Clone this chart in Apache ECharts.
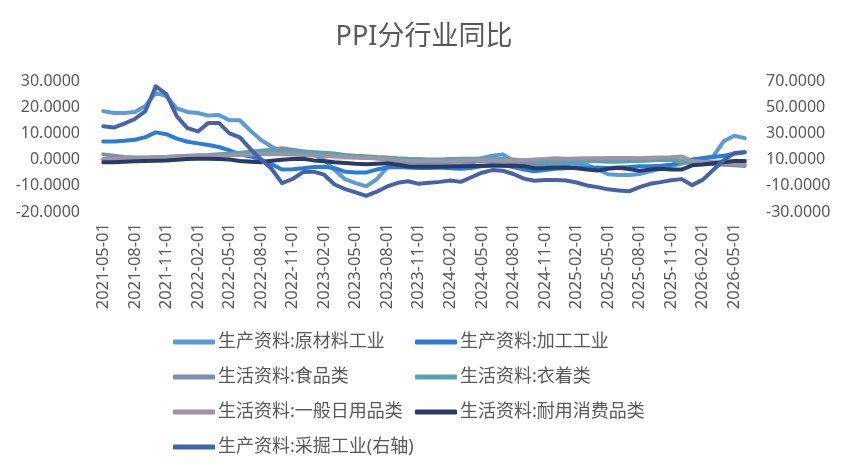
<!DOCTYPE html>
<html><head><meta charset="utf-8">
<script src="https://cdn.jsdelivr.net/npm/echarts@6/dist/echarts.min.js"></script>
<style>html,body{margin:0;padding:0;background:#fff}#c{width:848px;height:475px}</style>
</head><body><div id="c"></div>
<script>
const categories = ["2021-05-01","2021-06-01","2021-07-01","2021-08-01","2021-09-01","2021-10-01","2021-11-01","2021-12-01",
"2022-01-01","2022-02-01","2022-03-01","2022-04-01","2022-05-01","2022-06-01","2022-07-01","2022-08-01","2022-09-01","2022-10-01","2022-11-01","2022-12-01",
"2023-01-01","2023-02-01","2023-03-01","2023-04-01","2023-05-01","2023-06-01","2023-07-01","2023-08-01","2023-09-01","2023-10-01","2023-11-01","2023-12-01",
"2024-01-01","2024-02-01","2024-03-01","2024-04-01","2024-05-01","2024-06-01","2024-07-01","2024-08-01","2024-09-01","2024-10-01","2024-11-01","2024-12-01",
"2025-01-01","2025-02-01","2025-03-01","2025-04-01","2025-05-01","2025-06-01","2025-07-01","2025-08-01","2025-09-01","2025-10-01","2025-11-01","2025-12-01",
"2026-01-01","2026-02-01","2026-03-01","2026-04-01","2026-05-01","2026-06-01"];

const seriesNames = ["生产资料:原材料工业","生产资料:加工工业","生活资料:食品类","生活资料:衣着类","生活资料:一般日用品类","生活资料:耐用消费品类","生产资料:采掘工业(右轴)"];

const rawMaterial = [18.5,17.8,17.8,18.2,20.5,25.5,24.2,19.5,18.2,17.8,16.8,17.0,15.0,15.0,11.0,7.5,5.0,3.0,2.5,2.5,
2.0,0.0,-4.0,-7.5,-9.0,-10.2,-7.5,-3.0,-2.0,-1.8,-2.0,-2.2,-2.0,-2.2,-2.4,-1.5,0.5,1.5,2.0,-0.5,
-1.5,-2.0,-2.2,-1.5,-1.8,-1.5,-2.0,-3.7,-5.6,-5.9,-5.9,-5.5,-4.5,-3.5,-2.5,-1.5,-0.5,0.5,1.2,7.0,9.1,8.2];
const processing = [6.9,6.9,7.2,7.6,8.6,10.4,9.7,8.0,6.8,6.2,5.6,4.8,3.5,2.0,1.2,0.0,-1.8,-3.8,-3.7,-3.3,
-2.8,-2.7,-3.3,-4.6,-4.9,-4.9,-3.8,-3.0,-2.8,-3.0,-3.2,-3.2,-3.0,-3.3,-3.5,-3.2,-2.5,-2.0,-2.2,-2.8,
-3.8,-4.5,-4.0,-3.5,-3.3,-3.0,-3.2,-3.0,-3.2,-3.0,-2.8,-2.5,-2.5,-2.3,-2.0,-0.8,0.0,0.5,1.0,1.5,2.2,2.8];
const food = [2.0,1.5,1.0,0.8,0.8,0.9,1.0,1.2,1.3,1.4,1.5,1.7,2.0,2.5,3.0,3.4,3.8,4.3,3.8,3.2,
2.7,2.4,2.2,1.6,1.0,0.8,0.5,0.0,-0.5,-0.8,-0.8,-1.0,-1.0,-0.8,-0.8,-0.6,-0.5,-0.6,-0.8,-1.0,
-1.2,-1.3,-1.0,-0.8,-0.6,-0.5,-0.5,-0.6,-0.8,-0.8,-0.6,-0.5,-0.3,-0.2,-0.1,-1.0,-1.3,-1.5,-1.8,-2.0,-2.2,-2.4];
const clothing = [0.0,0.0,0.1,0.3,0.5,0.8,1.0,1.2,1.5,1.7,1.8,2.0,2.2,2.5,2.8,3.0,3.0,3.0,3.0,3.0,
2.8,2.6,2.2,1.8,1.5,1.3,1.0,0.8,0.5,0.3,0.2,0.0,0.0,0.2,0.3,0.3,0.4,0.3,0.2,0.0,
-0.3,-0.5,-0.5,-0.6,-0.4,-0.3,-0.4,-0.5,-0.5,-0.5,-0.4,-0.3,-0.2,-0.1,0.0,-0.5,-0.8,-0.9,-1.0,-1.0,-1.0,-1.0];
const dailyUse = [0.2,0.3,0.4,0.5,0.6,0.8,1.0,1.2,1.3,1.4,1.5,1.6,1.7,1.8,1.9,2.0,2.0,2.0,1.9,1.8,
1.6,1.5,1.2,1.0,0.8,0.6,0.4,0.2,-0.2,-0.4,-0.5,-0.5,-0.4,-0.4,-0.3,-0.2,-0.2,-0.3,-0.3,-0.3,
-0.2,0.0,0.2,0.5,0.3,0.4,0.5,0.5,0.6,0.6,0.6,0.5,0.7,0.8,0.9,1.2,-0.5,-0.8,-1.2,-1.5,-1.7,-2.0];
const durable = [-1.0,-1.0,-0.8,-0.6,-0.5,-0.4,-0.3,-0.1,0.2,0.3,0.3,0.2,0.0,-0.5,-0.8,-1.0,-0.4,-0.1,0.2,0.3,
-0.3,-0.6,-1.0,-1.3,-1.6,-1.8,-1.6,-1.4,-2.0,-2.6,-2.7,-2.7,-2.7,-2.6,-2.5,-2.4,-2.3,-2.3,-2.3,-2.3,
-2.5,-3.3,-3.2,-3.0,-3.0,-3.3,-3.8,-4.2,-3.5,-3.1,-3.6,-4.3,-3.8,-3.5,-3.8,-3.8,-2.2,-1.9,-1.4,-1.0,-0.5,-0.5];
const mining = [35.4,34.5,37.5,41,47,66,60,43,34,31.5,38,38,30,27,18,10,3,-8,-4.8,0.5,
0.8,-1.5,-9,-12.5,-15,-17.7,-14.5,-10.5,-7.7,-6.5,-8.5,-7.7,-7,-6,-7,-3.5,0,2,1.5,-1,
-4.5,-6.2,-5.6,-5.6,-6,-7.5,-9.7,-11,-12.7,-13.5,-14.2,-11,-8.5,-7.2,-5.7,-4.9,-9.5,-5.5,2,9.5,15,15.6];

const allData = [rawMaterial, processing, food, clothing, dailyUse, durable, mining];
const colors = ["#5B9BD5","#2A7DD6","#7E8DA8","#5BA2AE","#9D93A6","#283A66","#4862AA"];
const textColor = "#595959";
const font = "'Noto Sans','Noto Sans CJK SC',sans-serif";

const chart = echarts.init(document.getElementById('c'));
const series = seriesNames.map((n, k) => ({
  name: n, type: 'line', data: allData[k], yAxisIndex: k === 6 ? 1 : 0,
  symbol: 'none', smooth: false, z: 2 + k,
  lineStyle: { width: 4, color: colors[k], cap: 'round', join: 'round' },
  itemStyle: { color: colors[k] },
  emphasis: { disabled: true }
}));
series[0].markLine = {
  silent: true, symbol: 'none', label: { show: false },
  lineStyle: { color: '#D9D9D9', width: 1, type: 'solid' },
  data: [{ yAxis: 0 }], z: 1
};

const legendPos = [[173,333],[415,333],[173,368],[415,368],[173,403],[415,403],[173,438]];
const legends = seriesNames.map((n, k) => ({
  data: [n], left: legendPos[k][0], top: legendPos[k][1],
  icon: 'roundRect', itemWidth: 42, itemHeight: 5, itemGap: 0, padding: 0,
  selectedMode: false,
  textStyle: { color: textColor, fontSize: 18, fontFamily: font, padding: [0,0,0,-2] }
}));

chart.setOption({
  animation: false,
  backgroundColor: '#fff',
  title: { text: 'PPI分行业同比', left: 'center', top: 19,
    textStyle: { color: textColor, fontSize: 27, fontWeight: 'normal', fontFamily: font } },
  legend: legends,
  grid: { left: 98, right: 98, top: 81, bottom: 263, containLabel: false },
  xAxis: {
    type: 'category', data: categories, boundaryGap: true,
    axisLine: { show: false }, axisTick: { show: false }, splitLine: { show: false },
    axisLabel: { interval: 2, rotate: 90, margin: 11, color: textColor, fontSize: 16.5, fontFamily: font }
  },
  yAxis: [
    { type: 'value', min: -20, max: 30, interval: 10, splitLine: { show: false },
      axisLine: { show: false }, axisTick: { show: false },
      axisLabel: { margin: 18, color: textColor, fontSize: 16, fontFamily: font, formatter: v => v.toFixed(4) } },
    { type: 'value', min: -30, max: 70, interval: 20, splitLine: { show: false },
      axisLine: { show: false }, axisTick: { show: false },
      axisLabel: { margin: 16, color: textColor, fontSize: 16, fontFamily: font, formatter: v => v.toFixed(4) } }
  ],
  series: series
});
</script></body></html>
